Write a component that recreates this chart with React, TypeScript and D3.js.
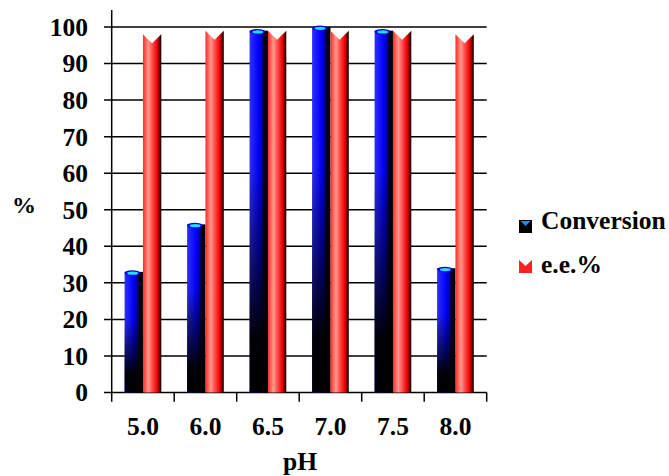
import React from "react";
import * as d3 from "d3";

const categories = ["5.0", "6.0", "6.5", "7.0", "7.5", "8.0"];
const conversion = [33, 46, 99, 100, 99, 34];
const ee = [98, 99, 99, 99, 99, 98];
const yTicks = [0, 10, 20, 30, 40, 50, 60, 70, 80, 90, 100];
const seriesNames = ["Conversion", "e.e.%"];

const W = 669;
const H = 476;
const txt: React.CSSProperties = { fontFamily: "'Liberation Serif'", fontWeight: 700 };

export default function App() {
  const x = d3.scaleBand<string>().domain(categories).range([111.7, 486.7]).paddingInner(0).paddingOuter(0);
  const y = d3.scaleLinear().domain([0, 100]).range([392.5, 27]);
  const bw = x.bandwidth();
  const pairW = 36.7;
  const inner = d3.scaleBand<string>().domain(seriesNames).range([bw / 2 - pairW / 2, bw / 2 + pairW / 2]).padding(0);
  const sw = inner.bandwidth();
  const y0 = y(0);

  return (
    <svg width={W} height={H} style={{ position: "absolute", left: 0, top: 0, background: "#fff" }}>
      <defs>
        <linearGradient id="blueH" x1="0" y1="0" x2="1" y2="0">
          <stop offset="0" stopColor="#3030ff" />
          <stop offset="0.5" stopColor="#0000ff" />
          <stop offset="0.66" stopColor="#0000b0" />
          <stop offset="0.8" stopColor="#000020" />
          <stop offset="1" stopColor="#000000" />
        </linearGradient>
        <linearGradient id="blueV" x1="0" y1="0" x2="0" y2="1">
          <stop offset="0" stopColor="#000" stopOpacity="0" />
          <stop offset="0.38" stopColor="#000" stopOpacity="0.05" />
          <stop offset="0.85" stopColor="#000" stopOpacity="0.97" />
          <stop offset="1" stopColor="#000" stopOpacity="1" />
        </linearGradient>
        <linearGradient id="redH" x1="0" y1="0" x2="1" y2="0">
          <stop offset="0" stopColor="#ff2a2a" />
          <stop offset="0.3" stopColor="#ff9a8a" />
          <stop offset="0.5" stopColor="#ff5050" />
          <stop offset="0.78" stopColor="#f00000" />
          <stop offset="0.87" stopColor="#900000" />
          <stop offset="1" stopColor="#000000" />
        </linearGradient>
      </defs>

      {yTicks.map((t) => (
        <line key={"g" + t} x1={104} x2={486.7} y1={y(t)} y2={y(t)} stroke="#000" strokeWidth={1.5} />
      ))}
      <line x1={111.7} x2={111.7} y1={10} y2={401.7} stroke="#000" strokeWidth={1.5} />
      {categories.map((c) => (
        <line key={"t" + c} x1={(x(c) as number) + bw} x2={(x(c) as number) + bw} y1={y0} y2={401.7} stroke="#000" strokeWidth={1.5} />
      ))}

      {categories.map((c, i) => {
        const bx = (x(c) as number) + (inner("Conversion") as number);
        const top = y(conversion[i]);
        const h = y0 - top;
        return (
          <g key={"b" + c}>
            <rect x={bx} y={top} width={sw} height={h} fill="url(#blueH)" />
            <rect x={bx} y={top} width={sw} height={h} fill="url(#blueV)" />
            <ellipse cx={bx + sw * 0.42} cy={top + 1} rx={sw * 0.42} ry={2.6} fill="#0000e0" />
            <ellipse cx={bx + sw * 0.44} cy={top + 1.3} rx={sw * 0.3} ry={1.6} fill="#22ddff" />
          </g>
        );
      })}
      {categories.map((c, i) => {
        const rx = (x(c) as number) + (inner("e.e.%") as number);
        const top = y(ee[i]);
        const path = `M${rx},${top} L${rx + sw / 2},${top + 9} L${rx + sw},${top} L${rx + sw},${y0} L${rx},${y0} Z`;
        return <path key={"r" + c} d={path} fill="url(#redH)" />;
      })}

      {yTicks.map((t) => (
        <text key={"l" + t} x={88} y={y(t)} dy="0.35em" textAnchor="end" style={txt} fontSize={25.5} fill="#000">
          {t}
        </text>
      ))}
      {categories.map((c) => (
        <text key={"xl" + c} x={(x(c) as number) + bw / 2} y={435} textAnchor="middle" style={txt} fontSize={25.5} fill="#000">
          {c}
        </text>
      ))}

      <text x={300} y={470} textAnchor="middle" style={txt} fontSize={25.5} fill="#000">pH</text>
      <text x={24} y={213} textAnchor="middle" style={txt} fontSize={24} fill="#000">%</text>

      <g>
        <rect x={519} y={220} width={13} height={13} fill="#000" />
        <polygon points="520.5,221 530.5,221 525.5,226" fill="#1a8cff" />
        <text x={541} y={229} style={txt} fontSize={25.5} fill="#000">{seriesNames[0]}</text>
        <path d="M519,260 L525.5,266 L532,260 L532,273 L519,273 Z" fill="#ff2020" />
        <text x={541} y={273} style={txt} fontSize={25.5} fill="#000">{seriesNames[1]}</text>
      </g>
    </svg>
  );
}
